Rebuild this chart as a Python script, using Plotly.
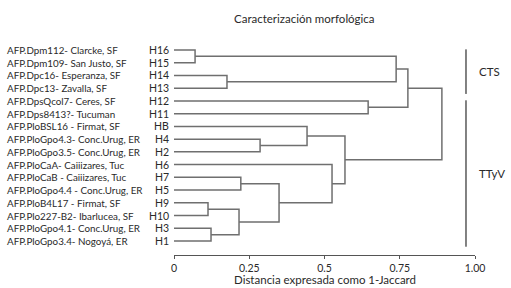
import plotly.graph_objects as go

# ---- data ----
leaf_codes = ["H16", "H15", "H14", "H13", "H12", "H11", "H8", "H4", "H2",
              "H6", "H7", "H5", "H9", "H10", "H3", "H1"]
leaf_text = ["HB" if c == "H8" else c for c in leaf_codes]
leaf_names = ["AFP.Dpm112- Clarcke, SF", "AFP.Dpm109- San Justo, SF",
              "AFP.Dpc16- Esperanza, SF", "AFP.Dpc13- Zavalla, SF",
              "AFP.DpsQcol7- Ceres, SF", "AFP.Dps8413?- Tucuman",
              "AFP.PloBSL16 - Firmat, SF", "AFP.PloGpo4.3- Conc.Urug, ER",
              "AFP.PloGpo3.5- Conc.Urug, ER", "AFP.PloCaA- Caiiizares, Tuc",
              "AFP.PloCaB - Caiiizares, Tuc", "AFP.PloGpo4.4 - Conc.Urug, ER",
              "AFP.PloB4L17 - Firmat, SF", "AFP.Plo227-B2- Ibarlucea, SF",
              "AFP.PloGpo4.1- Conc.Urug, ER", "AFP.PloGpo3.4- Nogoyá, ER"]
# merges: children refer to leaf codes or "m<k>" (earlier merges)
merge_left = ["H16", "H14", "m0", "H12", "m2", "H4", "H8", "H7", "H9", "H3",
              "m8", "m7", "H6", "m6", "m4"]
merge_right = ["H15", "H13", "m1", "H11", "m3", "H2", "m5", "H5", "H10", "H1",
               "m9", "m10", "m11", "m12", "m13"]
merge_height = [0.07, 0.176, 0.738, 0.645, 0.777, 0.286, 0.442, 0.222, 0.113,
                0.123, 0.216, 0.349, 0.525, 0.568, 0.89]
groups = ["CTS", "TTyV"]
group_start = ["H16", "H12"]
group_end = ["H13", "H1"]
x_ticks = [0, 0.25, 0.5, 0.75, 1.0]
x_tick_text = ["0", "0.25", "0.5", "0.75", "1.00"]

# ---- build dendrogram geometry ----
pos = {c: (0.0, float(i)) for i, c in enumerate(leaf_codes)}
xs, ys = [], []
for k, (a, b, h) in enumerate(zip(merge_left, merge_right, merge_height)):
    ha, ya = pos[a]
    hb, yb = pos[b]
    xs += [ha, h, h, hb, None]
    ys += [ya, ya, yb, yb, None]
    pos["m%d" % k] = (h, (ya + yb) / 2)

FONT = "Lato"
TXT = "#2a2a2a"
L, R, T, B = 174, 36, 40, 33
PW, PH = 511 - L - R, 288 - T - B


def px_x(p):
    return (p - L) / PW


def px_y(p):
    return 1 - (p - T) / PH


fig = go.Figure()
fig.add_trace(go.Scatter(x=xs, y=ys, mode="lines",
                         line=dict(color="#6f6f6f", width=1.5),
                         hoverinfo="skip", showlegend=False))

ann = []
for i, (c, n) in enumerate(zip(leaf_text, leaf_names)):
    ann.append(dict(x=px_x(5), y=i, xref="paper", yref="y", text=n,
                    showarrow=False, xanchor="left", yanchor="middle",
                    font=dict(family=FONT, size=9.8, color=TXT)))
    ann.append(dict(x=px_x(171), y=i, xref="paper", yref="y", text=c,
                    showarrow=False, xanchor="right", yanchor="middle",
                    font=dict(family=FONT, size=10.5, color=TXT)))

shapes = []
idx = {c: i for i, c in enumerate(leaf_codes)}
for g, s, e in zip(groups, group_start, group_end):
    y0, y1 = idx[s], idx[e]
    shapes.append(dict(type="line", xref="x", yref="y", x0=0.97, x1=0.97,
                       y0=y0 - 0.05, y1=y1 + 0.45,
                       line=dict(color="#808080", width=2)))
    ann.append(dict(x=px_x(477), y=(y0 + y1) / 2 + 0.2, xref="paper", yref="y",
                    text=g, showarrow=False, xanchor="left", yanchor="middle",
                    font=dict(family=FONT, size=11.5, color=TXT)))

ann.append(dict(x=px_x(304), y=px_y(18), xref="paper", yref="paper",
                text="Caracterización morfológica", showarrow=False,
                xanchor="center", yanchor="middle",
                font=dict(family=FONT, size=11.5, color=TXT)))
ann.append(dict(x=px_x(325), y=px_y(279), xref="paper", yref="paper",
                text="Distancia expresada como 1-Jaccard", showarrow=False,
                xanchor="center", yanchor="middle",
                font=dict(family=FONT, size=11.5, color=TXT)))

fig.update_layout(
    width=511, height=288,
    margin=dict(l=L, r=R, t=T, b=B),
    paper_bgcolor="white", plot_bgcolor="white",
    annotations=ann, shapes=shapes,
    xaxis=dict(range=[0, 1], showgrid=False, zeroline=False, showline=True,
               linecolor="#555", linewidth=1, ticks="outside", ticklen=3,
               tickcolor="#555", tickvals=x_ticks, ticktext=x_tick_text,
               tickfont=dict(family=FONT, size=10.5, color=TXT),
               fixedrange=True, automargin=False),
    yaxis=dict(range=[16.1, -0.785], showgrid=False, zeroline=False,
               showline=False, showticklabels=False, fixedrange=True),
)
fig.write_html("out.html", config={"displayModeBar": False},
               post_script="document.body.style.margin='0';"
                           "document.body.style.overflow='hidden';")
